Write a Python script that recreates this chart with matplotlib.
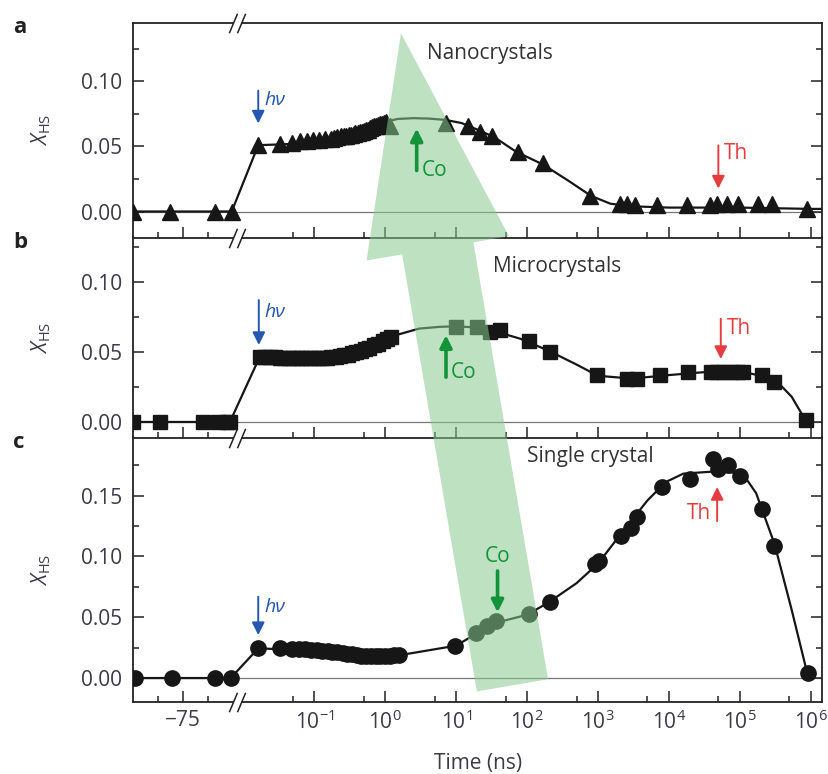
import numpy as np
import matplotlib
matplotlib.use('Agg')
import matplotlib.pyplot as plt
from matplotlib.patches import ConnectionPatch
from matplotlib.path import Path
from matplotlib.text import Annotation
from matplotlib.ticker import FixedLocator, FixedFormatter, MultipleLocator, FormatStrFormatter

plt.rcParams['font.family'] = ['Open Sans', 'DejaVu Sans']
plt.rcParams['mathtext.fontset'] = 'custom'
plt.rcParams['mathtext.rm'] = 'Open Sans'
plt.rcParams['mathtext.it'] = 'Open Sans:italic'
plt.rcParams['mathtext.bf'] = 'Open Sans:bold'

# ---- data: time (ns) and X_HS ----
# a: nanocrystals (triangles)
t_a = [-100, -81.7, -59.2, -50.8,
       0.0162, 0.033, 0.048, 0.062, 0.078, 0.095, 0.115, 0.14, 0.17, 0.19, 0.21, 0.24,
       0.26, 0.28, 0.31, 0.33, 0.36, 0.38, 0.41, 0.44, 0.47, 0.5, 0.54, 0.57, 0.61,
       0.65, 0.7, 0.74, 0.79, 0.84, 0.9, 0.95, 1.02,
       1.15, 7.3, 14.7, 21.7, 31.8, 74.7, 168, 774, 2050, 2550, 3340, 6750,
       17900, 38100, 47300, 65600, 95500, 183000, 283000, 881000]
x_a = [0, 0, 0, 0,
       0.051, 0.052, 0.053, 0.054, 0.054, 0.055, 0.055, 0.056, 0.056, 0.0565, 0.057, 0.058,
       0.058, 0.058, 0.0585, 0.059, 0.0595, 0.060, 0.0605, 0.061, 0.0615, 0.062, 0.0625,
       0.063, 0.064, 0.065, 0.0655, 0.066, 0.0665, 0.067, 0.0675, 0.068, 0.0685,
       0.066, 0.068, 0.066, 0.061, 0.058, 0.046, 0.037, 0.012, 0.006, 0.006, 0.005, 0.005,
       0.005, 0.005, 0.006, 0.006, 0.006, 0.006, 0.006, 0.002]
fit_t_a = [-100, -50.8, 0.0162, 0.05, 0.1, 0.2, 0.4, 0.7, 1.0, 1.5, 2.5, 4, 7, 12, 20, 35,
           70, 170, 400, 800, 1500, 3000, 1e4, 1e5, 1e6, 1.5e6]
fit_x_a = [0, 0, 0.051, 0.052, 0.054, 0.057, 0.060, 0.065, 0.069, 0.0712, 0.0718, 0.0715,
           0.0705, 0.068, 0.063, 0.057, 0.046, 0.036, 0.023, 0.012, 0.006, 0.004, 0.003,
           0.003, 0.002, 0.002]

# b: microcrystals (squares)
t_b = [-100, -86.7, -65, -57.5, -53, -51.7,
       0.017, 0.02, 0.024, 0.028, 0.033, 0.038, 0.044, 0.05, 0.058, 0.066, 0.076, 0.087,
       0.1, 0.115, 0.13, 0.15, 0.17, 0.2, 0.23, 0.26, 0.3, 0.34, 0.39, 0.45, 0.52, 0.6,
       0.69, 0.8, 0.92, 1.05, 1.2,
       10, 20, 30, 42, 105, 209, 967, 2570, 3550, 7600, 18800, 39000, 48000, 60000,
       75000, 93000, 110000, 204000, 309000, 851000]
x_b = [0, 0, 0, 0, 0, 0,
       0.0465, 0.0465, 0.0465, 0.0465, 0.046, 0.046, 0.046, 0.046, 0.046, 0.046, 0.046,
       0.046, 0.046, 0.046, 0.046, 0.046, 0.0462, 0.0465, 0.047, 0.0475, 0.048, 0.049,
       0.050, 0.051, 0.052, 0.053, 0.055, 0.056, 0.058, 0.059, 0.061,
       0.0678, 0.0678, 0.0643, 0.0655, 0.0578, 0.050, 0.0333, 0.031, 0.031, 0.0333,
       0.0357, 0.0357, 0.0357, 0.0357, 0.0357, 0.0357, 0.0357, 0.0333, 0.0286, 0.0012]
fit_t_b = [-100, -51.7, 0.017, 0.05, 0.15, 0.3, 0.6, 1.2, 3, 6, 10, 20, 40, 80, 200,
           500, 1000, 3000, 1e4, 3e4, 1e5, 2e5, 3.4e5, 5.4e5, 8.5e5]
fit_x_b = [0, 0, 0.0465, 0.046, 0.046, 0.048, 0.053, 0.061, 0.0667, 0.068, 0.0683,
           0.0675, 0.064, 0.0595, 0.051, 0.041, 0.033, 0.031, 0.0335, 0.0355, 0.0362,
           0.033, 0.0286, 0.018, 0.001]

# c: single crystal (circles)
t_c = [-99.2, -80.8, -59.2, -51.3,
       0.0162, 0.033, 0.048, 0.06, 0.075, 0.09, 0.11, 0.13, 0.155, 0.18, 0.21, 0.25,
       0.29, 0.34, 0.4, 0.46, 0.54, 0.63, 0.73, 0.85, 1.0, 1.15, 1.35, 1.55,
       9.8, 19, 27, 37, 105, 209, 912, 1020, 2140, 2880, 3550, 7940, 20000, 41700,
       49000, 69000, 102000, 204000, 309000, 912000]
x_c = [0, 0, 0, 0,
       0.0244, 0.0244, 0.024, 0.024, 0.0235, 0.0233, 0.023, 0.0225, 0.022, 0.0215,
       0.021, 0.0205, 0.020, 0.0195, 0.019, 0.0185, 0.018, 0.018, 0.0178, 0.0178,
       0.0178, 0.0182, 0.0188, 0.019,
       0.026, 0.037, 0.043, 0.0467, 0.0527, 0.0626, 0.094, 0.096, 0.117, 0.123, 0.1327,
       0.157, 0.164, 0.180, 0.1717, 0.175, 0.166, 0.139, 0.1085, 0.004]
fit_t_c = [-100, -51.3, 0.0162, 0.1, 0.3, 0.8, 1.5, 10, 20, 40, 100, 200, 500, 1000,
           2500, 5000, 9000, 16000, 50000, 110000, 170000, 310000, 540000, 912000]
fit_x_c = [0, 0, 0.0244, 0.0225, 0.0195, 0.0178, 0.0185, 0.0266, 0.037, 0.046, 0.052,
           0.062, 0.078, 0.094, 0.124, 0.146, 0.161, 0.168, 0.170, 0.168, 0.152, 0.110,
           0.056, 0.002]

major_t = [-75, 0.1, 1, 10, 100, 1e3, 1e4, 1e5, 1e6]
major_lbl = ['\u221275', '$10^{\u22121}$', '$10^{0}$', '$10^{1}$', '$10^{2}$', '$10^{3}$',
             '$10^{4}$', '$10^{5}$', '$10^{6}$']
minor_t = [-87.5, -62.5, 0.05, 0.5, 5, 50, 500, 5e3, 5e4, 5e5]

# ---- broken time axis: linear for negative times, log for positive ----
T_BREAK = -48.3
P_BREAK = -2.094
K_LIN = 2 / 70.9   # decades per ns on the linear side


def fwd(t):
    t = np.asarray(t, dtype=float)
    logp = np.log10(np.where(t > 0, t, 1.0))
    return np.where(t > 0, logp, P_BREAK + (t - T_BREAK) * K_LIN)


def inv(p):
    p = np.asarray(p, dtype=float)
    return np.where(p < P_BREAK, T_BREAK + (p - P_BREAK) / K_LIN, 10.0 ** p)


slash = Path([(-0.84, -1), (0, 1), (0, -1), (0.84, 1)],
             [Path.MOVETO, Path.LINETO, Path.MOVETO, Path.LINETO])

BLUE = '#2458b0'
GREEN = '#13943a'
RED = '#e63b3f'
TXT = '#3a3a48'
INK = '#161616'

W, H = 829, 774
fig = plt.figure(figsize=(W / 100, H / 100), dpi=100)
left, right = 133.3 / W, 822 / W
rows = [(23, 237.5), (237.5, 437.5), (437.5, 702)]
axes = []
for top, bot in rows:
    axes.append(fig.add_axes([left, 1 - bot / H, right - left, (bot - top) / H]))
ax_a, ax_b, ax_c = axes

panels = [
    (ax_a, t_a, x_a, fit_t_a, fit_x_a, '^', 12, (-0.02, 0.145)),
    (ax_b, t_b, x_b, fit_t_b, fit_x_b, 's', 10.5, (-0.0111, 0.1318)),
    (ax_c, t_c, x_c, fit_t_c, fit_x_c, 'o', 11, (-0.0197, 0.1977)),
]

for i, (ax, t, x, ft, fx, mk, ms, ylim) in enumerate(panels):
    ax.patch.set_visible(False)
    ax.set_xscale('function', functions=(fwd, inv))
    ax.set_xlim(-100, 1.445e6)
    ax.set_ylim(*ylim)
    ax.axhline(0, color='#777777', lw=0.9, zorder=1)
    ax.plot(ft, fx, color=INK, lw=1.6, zorder=2)
    ax.plot(t, x, ls='none', marker=mk, ms=ms, color=INK, mec=INK, zorder=3)

    ax.xaxis.set_major_locator(FixedLocator(major_t))
    ax.xaxis.set_major_formatter(FixedFormatter(major_lbl))
    ax.xaxis.set_minor_locator(FixedLocator(minor_t))
    ax.yaxis.set_major_locator(MultipleLocator(0.05))
    ax.yaxis.set_minor_locator(MultipleLocator(0.025))
    ax.yaxis.set_major_formatter(FormatStrFormatter('%.2f'))
    ax.tick_params(which='both', direction='in', top=False, right=True,
                   labelsize=15, labelcolor=TXT, color='#222222')
    ax.tick_params(which='major', length=8, width=1.1)
    ax.tick_params(which='minor', length=4.5, width=1.1)
    ax.tick_params(axis='y', pad=8)
    ax.tick_params(axis='x', pad=6)
    if i < 2:
        ax.tick_params(labelbottom=False)
    for s in ax.spines.values():
        s.set_linewidth(1.3)
        s.set_color('#222222')
    if i > 0:
        ax.spines['top'].set_visible(False)
    ax.set_ylabel(r'$X_{\mathrm{HS}}$', fontsize=15, color=TXT, labelpad=20)

    # axis break marks
    ys = [0, 1] if i == 0 else [0]
    tr = ax.get_xaxis_transform()
    ax.plot([T_BREAK] * len(ys), ys, transform=tr, ls='none', marker='_', ms=6,
            mew=3.5, color='white', clip_on=False, zorder=5)
    ax.plot([T_BREAK] * len(ys), ys, transform=tr, ls='none', marker=slash, ms=14,
            mew=1.1, mfc='none', mec='#222222', clip_on=False, zorder=6)

ax_c.set_xlabel('Time (ns)', fontsize=15, color=TXT, labelpad=14)
fig.align_ylabels(axes)

# big translucent arrow across the three panels
big = ConnectionPatch(xyA=(62.4, -0.006), coordsA='data', axesA=ax_c,
                      xyB=(1.67, 0.137), coordsB='data', axesB=ax_a,
                      arrowstyle='simple,head_length=157,head_width=104,tail_width=52',
                      mutation_scale=1, shrinkA=0, shrinkB=0, lw=0,
                      color=(0.53, 0.79, 0.56), alpha=0.55, zorder=10)
big.set_annotation_clip(False)
fig.add_artist(big)


def mark(ax, t, y0, y1, color, label, tx, ty, ha='left', italic=False, lw=1.4,
         ms=19, fs=14):
    # drawn on the figure so they sit above the big arrow
    ann = Annotation('', xy=(t, y1), xytext=(t, y0), xycoords=ax.transData,
                     textcoords=ax.transData,
                     arrowprops=dict(arrowstyle='-|>', color=color, lw=lw,
                                     mutation_scale=ms, shrinkA=0, shrinkB=0))
    ann.set_zorder(12)
    fig.add_artist(ann)
    fig.text(tx, ty, label, transform=ax.transData, color=color, fontsize=fs,
             ha=ha, va='center', style='italic' if italic else 'normal', zorder=12)


# h-nu, Co, Th markers
mark(ax_a, 0.0162, 0.093, 0.0677, BLUE, 'h\u03bd', 0.02, 0.086, italic=True)
mark(ax_b, 0.0165, 0.0871, 0.055, BLUE, 'h\u03bd', 0.02, 0.0785, italic=True)
mark(ax_c, 0.0162, 0.0668, 0.0353, BLUE, 'h\u03bd', 0.02, 0.058, italic=True)

mark(ax_a, 2.78, 0.0315, 0.0638, GREEN, 'Co', 3.3, 0.0315, lw=2.6, ms=18, fs=15)
mark(ax_b, 7.2, 0.032, 0.062, GREEN, 'Co', 8.3, 0.0355, lw=2.6, ms=18, fs=15)
mark(ax_c, 38.4, 0.088, 0.054, GREEN, 'Co', 38.4, 0.100, ha='center', lw=2.6, ms=18,
     fs=15)

mark(ax_a, 49900, 0.0508, 0.0177, RED, 'Th', 60000, 0.0446, fs=15)
mark(ax_b, 54000, 0.0738, 0.045, RED, 'Th', 66000, 0.0667, fs=15)
mark(ax_c, 48000, 0.129, 0.157, RED, 'Th', 39000, 0.135, ha='right', fs=15)

ax_a.text(3.9, 0.1215, 'Nanocrystals', fontsize=15, color='#333333', va='center')
ax_b.text(33, 0.111, 'Microcrystals', fontsize=15, color='#333333', va='center')
ax_c.text(100, 0.182, 'Single crystal', fontsize=15, color='#333333', va='center')

for lbl, py in [('a', 33), ('b', 248), ('c', 448)]:
    fig.text(13 / W, 1 - py / H, lbl, fontsize=16, fontweight='bold', color='#222222',
             va='baseline')

fig.savefig('out.png', dpi=100)
